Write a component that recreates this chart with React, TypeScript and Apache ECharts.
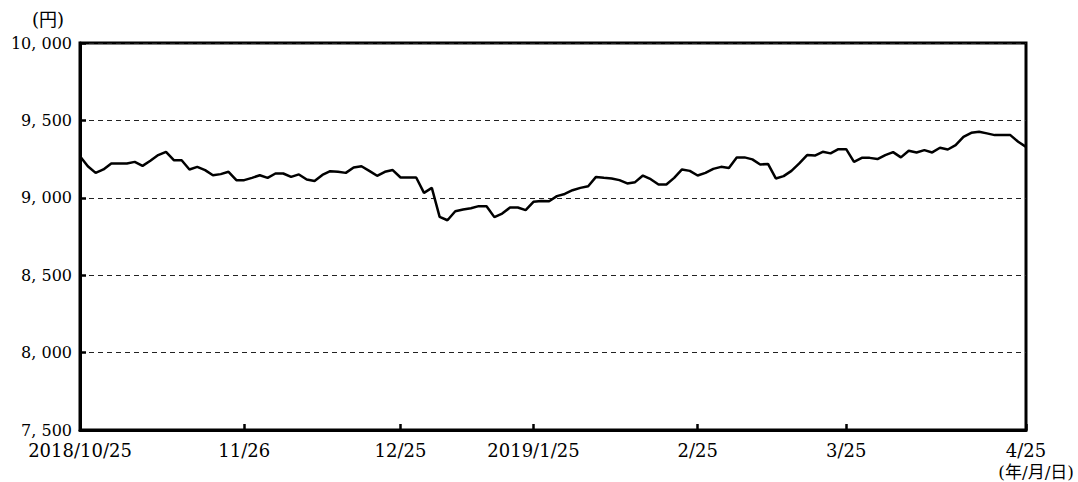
import React, { useEffect, useRef } from "react";
import * as echarts from "echarts";

const dates: string[] = [
  "2018/10/25", "2018/10/26", "2018/10/29", "2018/10/30", "2018/10/31",
  "2018/11/1", "2018/11/2", "2018/11/5", "2018/11/6", "2018/11/7", "2018/11/8", "2018/11/9",
  "2018/11/12", "2018/11/13", "2018/11/14", "2018/11/15", "2018/11/16",
  "2018/11/19", "2018/11/20", "2018/11/21", "2018/11/22",
  "2018/11/26", "2018/11/27", "2018/11/28", "2018/11/29", "2018/11/30",
  "2018/12/3", "2018/12/4", "2018/12/5", "2018/12/6", "2018/12/7",
  "2018/12/10", "2018/12/11", "2018/12/12", "2018/12/13", "2018/12/14",
  "2018/12/17", "2018/12/18", "2018/12/19", "2018/12/20", "2018/12/21",
  "2018/12/25", "2018/12/26", "2018/12/27", "2018/12/28",
  "2019/1/4", "2019/1/7", "2019/1/8", "2019/1/9", "2019/1/10", "2019/1/11",
  "2019/1/15", "2019/1/16", "2019/1/17", "2019/1/18",
  "2019/1/21", "2019/1/22", "2019/1/23", "2019/1/24", "2019/1/25",
  "2019/1/28", "2019/1/29", "2019/1/30", "2019/1/31",
  "2019/2/1", "2019/2/4", "2019/2/5", "2019/2/6", "2019/2/7", "2019/2/8",
  "2019/2/12", "2019/2/13", "2019/2/14", "2019/2/15",
  "2019/2/18", "2019/2/19", "2019/2/20", "2019/2/21", "2019/2/22",
  "2019/2/25", "2019/2/26", "2019/2/27", "2019/2/28",
  "2019/3/1", "2019/3/4", "2019/3/5", "2019/3/6", "2019/3/7", "2019/3/8",
  "2019/3/11", "2019/3/12", "2019/3/13", "2019/3/14", "2019/3/15",
  "2019/3/18", "2019/3/19", "2019/3/20", "2019/3/22",
  "2019/3/25", "2019/3/26", "2019/3/27", "2019/3/28", "2019/3/29",
  "2019/4/1", "2019/4/2", "2019/4/3", "2019/4/4", "2019/4/5",
  "2019/4/8", "2019/4/9", "2019/4/10", "2019/4/11", "2019/4/12",
  "2019/4/15", "2019/4/16", "2019/4/17", "2019/4/18", "2019/4/19",
  "2019/4/22", "2019/4/23", "2019/4/24", "2019/4/25",
];

const prices: number[] = [
  9269, 9204, 9161, 9183, 9222, 9222, 9222, 9232, 9206, 9239,
  9276, 9297, 9243, 9243, 9183, 9200, 9179, 9146, 9153, 9168,
  9114, 9114, 9129, 9146, 9129, 9157, 9157, 9135, 9151, 9118,
  9109, 9148, 9172, 9168, 9161, 9196, 9204, 9174, 9142, 9168,
  9179, 9131, 9131, 9131, 9032, 9064, 8877, 8855, 8913, 8924,
  8933, 8946, 8946, 8875, 8898, 8937, 8937, 8920, 8974, 8980,
  8978, 9011, 9025, 9049, 9064, 9075, 9135, 9129, 9125, 9114,
  9093, 9101, 9144, 9120, 9086, 9086, 9129, 9183, 9174, 9144,
  9161, 9187, 9200, 9192, 9261, 9261, 9248, 9215, 9219, 9125,
  9140, 9174, 9222, 9276, 9273, 9297, 9287, 9314, 9314, 9232,
  9258, 9258, 9250, 9276, 9295, 9261, 9304, 9293, 9308, 9293,
  9323, 9312, 9340, 9394, 9420, 9427, 9416, 9405, 9405, 9405,
  9362, 9329,
];

// tick positions (category values) and the text shown there
const tickDates: string[] = ["2018/10/25", "2018/11/26", "2018/12/25", "2019/1/24", "2019/2/25", "2019/3/25", "2019/4/25"];
const tickLabels: string[] = ["2018/10/25", "11/26", "12/25", "2019/1/25", "2/25", "3/25", "4/25"];

const yMin = 7500;
const yMax = 10000;
const yStep = 500;

const FONT = "'DejaVu Serif', 'Noto Sans CJK JP', serif";

export default function App() {
  const ref = useRef<HTMLDivElement>(null);
  useEffect(() => {
    if (!ref.current) return;
    const chart = echarts.init(ref.current, null, { renderer: "svg" });
    const labelMap: Record<string, string> = {};
    tickDates.forEach((d, i) => (labelMap[d] = tickLabels[i]));
    const isTick = (_i: number, v: string) => v in labelMap;
    const fmtNum = (v: number) => {
      const s = String(Math.round(v));
      return s.length > 3 ? s.slice(0, s.length - 3) + ", " + s.slice(s.length - 3) : s;
    };
    chart.setOption({
      animation: false,
      backgroundColor: "#fff",
      grid: {
        left: 80,
        right: 52,
        top: 43,
        bottom: 52,
        show: true,
        borderColor: "#000",
        borderWidth: 3,
        containLabel: false,
      },
      xAxis: {
        type: "category",
        boundaryGap: false,
        data: dates,
        axisLine: { show: true, lineStyle: { color: "#000", width: 3 } },
        axisTick: {
          show: true,
          inside: true,
          length: 6,
          interval: isTick,
          lineStyle: { color: "#000", width: 2.5 },
        },
        axisLabel: {
          interval: isTick,
          formatter: (v: string) => labelMap[v] ?? "",
          color: "#000",
          fontSize: 18,
          fontFamily: FONT,
          margin: 11,
          lineHeight: 18,
          showMinLabel: true,
          showMaxLabel: true,
        },
        splitLine: { show: false },
      },
      yAxis: {
        type: "value",
        min: yMin,
        max: yMax,
        interval: yStep,
        axisLine: { show: true, lineStyle: { color: "#000", width: 3 } },
        axisTick: { show: true, inside: true, length: 6, lineStyle: { color: "#000", width: 2.5 } },
        axisLabel: {
          formatter: fmtNum,
          color: "#000",
          fontSize: 16,
          fontFamily: FONT,
          margin: 8,
        },
        splitLine: { show: true, lineStyle: { color: "#222", width: 1, type: [5, 4] } },
      },
      series: [
        {
          type: "line",
          data: prices,
          symbol: "none",
          lineStyle: { color: "#000", width: 2.5 },
          z: 3,
        },
      ],
      graphic: [
        {
          type: "text",
          left: 32,
          top: 10,
          style: { text: "(円)", fontSize: 18, fontFamily: FONT, fill: "#000" },
        },
        {
          type: "text",
          right: 4,
          top: 463,
          style: { text: "(年/月/日)", fontSize: 17, lineHeight: 18, fontFamily: FONT, fill: "#000" },
        },
      ],
    });
    return () => chart.dispose();
  }, []);
  return (
    <div
      ref={ref}
      style={{ position: "absolute", left: 0, top: 0, width: 1078, height: 482 }}
    />
  );
}
